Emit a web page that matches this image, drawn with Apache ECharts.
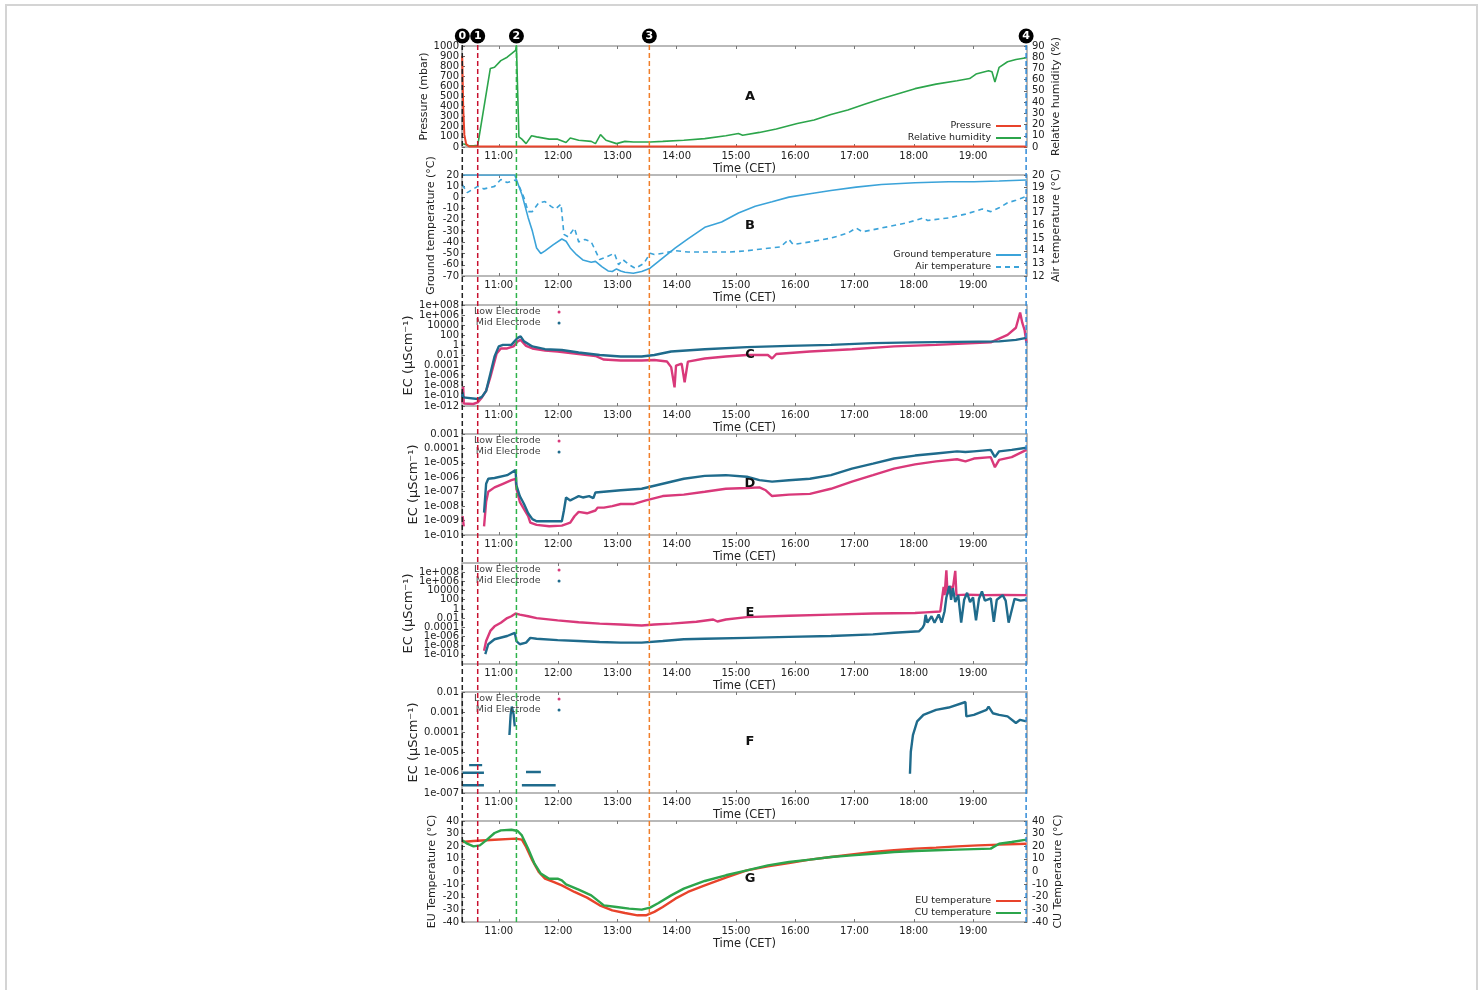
<!DOCTYPE html>
<html><head><meta charset="utf-8">
<script src="https://cdn.jsdelivr.net/npm/echarts@6/dist/echarts.min.js"></script>
<style>
html,body{margin:0;padding:0;background:#fff;width:1483px;height:990px;overflow:hidden}
#frame{position:absolute;left:5px;top:4px;width:1473px;height:1000px;border:2px solid #d4d4d4;box-sizing:border-box}
#chart{position:absolute;left:0;top:0;width:1483px;height:990px}
</style></head>
<body><div id="frame"></div><div id="chart"></div>
<script>
// ---------- tick labels / categories ----------
const HOUR_TICKS = [11, 12, 13, 14, 15, 16, 17, 18, 19];
const HOUR_LABELS = ['11:00','12:00','13:00','14:00','15:00','16:00','17:00','18:00','19:00'];
const TIME_MIN = 10.38, TIME_MAX = 19.91;           // decimal hours (CET)
const MARKER_TIMES = [10.385, 10.645, 11.298, 13.54, 19.895];
const MARKER_LABELS = ['0', '1', '2', '3', '4'];
const PANEL_LETTERS = ['A', 'B', 'C', 'D', 'E', 'F', 'G'];

// ---------- panel A ----------
const pressure = [[10.383,900],[10.40,400],[10.42,120],[10.45,30],[10.50,5],[19.90,5]];
const humidity = [[10.40,3],[10.433,2],[10.504,1],[10.574,1],[10.645,1.5],[10.858,70],[10.929,71],[11.035,77],[11.142,80],[11.284,86],[11.298,90],[11.34,9],[11.39,7],[11.461,3],[11.553,10],[11.638,9],[11.851,7],[11.993,7],[12.135,4],[12.206,8],[12.348,6],[12.56,5],[12.631,3],[12.716,11],[12.809,6],[12.986,3],[13.128,5],[13.27,4.5],[13.553,4.5],[13.766,5],[14.121,6],[14.475,7.5],[14.83,10],[15.043,12],[15.113,10.5],[15.397,13],[15.681,16],[16.035,21],[16.319,24],[16.603,29],[16.887,33],[17.17,38],[17.454,43],[17.738,47.5],[18.021,52],[18.376,56],[18.73,59],[18.943,61],[19.05,65],[19.262,68],[19.319,67],[19.369,58],[19.44,71],[19.582,76],[19.723,78],[19.901,79.6]];

// ---------- panel B ----------
const groundTemp = [[10.383,20],[11.27,20],[11.298,19],[11.39,2.7],[11.496,-18],[11.567,-30],[11.638,-45],[11.709,-50],[11.78,-47.6],[11.922,-42],[12.064,-37],[12.135,-39],[12.206,-45],[12.312,-51],[12.418,-55.7],[12.56,-57.7],[12.631,-57],[12.738,-61.6],[12.844,-65.5],[12.915,-66],[12.986,-63.7],[13.057,-65.5],[13.128,-66.7],[13.27,-67.6],[13.411,-66],[13.553,-63],[13.695,-57],[13.837,-51],[13.979,-45],[14.191,-37],[14.475,-26.6],[14.759,-21.9],[15.043,-13.8],[15.326,-7.8],[15.61,-3.9],[15.894,0.3],[16.248,3.3],[16.603,6.2],[17.028,9.2],[17.454,11.6],[18.021,13.1],[18.589,14],[19.014,14],[19.44,14.6],[19.901,15.5]];
const airTemp = [[10.383,19.25],[10.468,18.6],[10.574,18.9],[10.645,19.1],[10.752,18.9],[10.929,19.1],[11.035,19.65],[11.142,19.4],[11.284,19.6],[11.355,19.0],[11.426,18.2],[11.496,17.1],[11.567,17.1],[11.674,17.8],[11.78,17.9],[11.887,17.5],[11.957,17.3],[12.05,17.7],[12.099,15.3],[12.17,15.1],[12.277,15.8],[12.348,14.7],[12.454,14.9],[12.56,14.7],[12.702,13.3],[12.809,13.5],[12.95,13.8],[13.021,12.9],[13.092,13.3],[13.199,12.9],[13.305,12.6],[13.447,13.0],[13.553,13.8],[13.624,13.7],[13.766,13.8],[13.979,14.0],[14.191,13.9],[14.475,13.9],[14.901,13.9],[15.184,14.0],[15.539,14.2],[15.752,14.3],[15.894,14.9],[15.965,14.5],[16.248,14.7],[16.603,15.0],[16.887,15.4],[17.028,15.8],[17.135,15.5],[17.454,15.8],[17.879,16.2],[18.163,16.6],[18.234,16.4],[18.589,16.6],[18.872,16.9],[19.156,17.3],[19.298,17.1],[19.44,17.4],[19.582,17.8],[19.723,18.0],[19.901,18.3]];

// ---------- panel C (EC, µS/cm) ----------
const cLow = [[10.383,5e-12],[10.40,6.3e-9],[10.41,3.2e-12],[10.57,2.5e-12],[10.645,5e-12],[10.716,5e-11],[10.787,1e-9],[10.858,5e-7],[10.929,6.3e-4],[10.965,0.025],[11.035,0.25],[11.142,0.25],[11.248,0.63],[11.319,6.3],[11.369,12.6],[11.461,0.79],[11.567,0.25],[11.78,0.1],[11.993,0.063],[12.348,0.02],[12.631,0.0079],[12.773,0.0016],[13.057,0.001],[13.411,0.001],[13.624,0.00126],[13.837,6.3e-4],[13.908,5e-5],[13.965,5e-9],[13.99,1e-4],[14.085,2.5e-4],[14.135,5e-8],[14.19,6.3e-4],[14.475,0.0025],[14.83,0.0063],[15.184,0.0126],[15.539,0.0126],[15.61,0.0025],[15.681,0.02],[16.248,0.063],[16.957,0.178],[17.667,0.63],[18.376,1.26],[19.298,4],[19.582,126],[19.723,3160],[19.794,3.2e6],[19.83,3.2e4],[19.87,1000],[19.901,3.2]];
const cMid = [[10.383,5e-11],[10.39,5e-10],[10.40,5e-11],[10.645,2.5e-11],[10.716,6.3e-11],[10.787,1e-9],[10.858,2.5e-6],[10.929,0.0063],[11.0,0.63],[11.071,1.26],[11.213,1.26],[11.319,31.6],[11.369,63],[11.426,6.3],[11.567,0.63],[11.78,0.178],[12.064,0.126],[12.348,0.04],[12.702,0.0126],[13.057,0.0063],[13.411,0.0063],[13.624,0.0126],[13.908,0.063],[14.475,0.178],[15.184,0.45],[15.894,0.8],[16.603,1.26],[17.312,2.8],[18.021,4],[18.73,5],[19.44,6.3],[19.723,12.6],[19.901,31.6]];

// ---------- panel D ----------
const dLow = [[10.39,2e-9],[10.41,4e-10],[10.41,null],[10.752,4e-10],[10.787,2e-8],[10.823,1e-7],[10.929,2e-7],[11.071,3.55e-7],[11.213,6.3e-7],[11.284,7.9e-7],[11.298,1.6e-7],[11.355,2e-8],[11.426,6.3e-9],[11.496,2e-9],[11.532,7.1e-10],[11.638,5e-10],[11.851,4e-10],[12.064,4.5e-10],[12.206,7.1e-10],[12.277,2e-9],[12.348,4e-9],[12.489,3.2e-9],[12.631,5e-9],[12.667,7.9e-9],[12.773,7.9e-9],[12.915,1e-8],[13.057,1.4e-8],[13.27,1.4e-8],[13.482,2.5e-8],[13.766,5e-8],[14.121,6.3e-8],[14.475,1e-7],[14.83,1.6e-7],[15.184,1.8e-7],[15.397,2e-7],[15.504,1.26e-7],[15.61,5e-8],[15.894,6.3e-8],[16.248,7.1e-8],[16.603,1.6e-7],[16.957,5e-7],[17.312,1.4e-6],[17.667,4e-6],[18.021,7.9e-6],[18.376,1.26e-5],[18.73,1.78e-5],[18.872,1.26e-5],[19.014,2e-5],[19.298,2.5e-5],[19.369,5e-6],[19.44,1.6e-5],[19.652,2.5e-5],[19.901,7.9e-5]];
const dMid = [[10.752,3.55e-9],[10.787,3.55e-7],[10.823,7.9e-7],[10.929,8.9e-7],[11.142,1.4e-6],[11.284,3.2e-6],[11.298,2.8e-7],[11.355,5e-8],[11.426,1.4e-8],[11.496,3.2e-9],[11.567,1.26e-9],[11.638,8.9e-10],[12.064,8.9e-10],[12.099,5e-9],[12.135,4e-8],[12.206,2.5e-8],[12.277,3.55e-8],[12.348,5e-8],[12.418,4e-8],[12.525,5e-8],[12.596,3.55e-8],[12.631,8.9e-8],[12.773,1e-7],[13.057,1.26e-7],[13.411,1.6e-7],[13.766,3.55e-7],[14.121,7.9e-7],[14.475,1.26e-6],[14.83,1.4e-6],[15.184,1.1e-6],[15.397,6.3e-7],[15.61,5e-7],[15.894,6.3e-7],[16.248,7.9e-7],[16.603,1.4e-6],[16.957,4e-6],[17.312,8.9e-6],[17.667,2e-5],[18.021,3.2e-5],[18.376,4.5e-5],[18.73,6.3e-5],[18.872,5.6e-5],[19.014,6.3e-5],[19.298,7.9e-5],[19.369,2.5e-5],[19.44,6.3e-5],[19.652,7.9e-5],[19.901,1.12e-4]];

// ---------- panel E ----------
const eLow = [[10.752,7.9e-10],[10.787,1e-7],[10.858,1.6e-5],[10.929,1.6e-4],[11.035,1e-3],[11.142,0.01],[11.213,0.025],[11.284,0.1],[11.355,0.056],[11.496,0.025],[11.638,0.01],[11.993,0.0032],[12.348,0.00126],[12.702,6.3e-4],[13.057,4e-4],[13.411,2.5e-4],[13.624,4e-4],[13.908,6.3e-4],[14.333,0.0016],[14.617,0.005],[14.688,0.0018],[14.83,0.005],[15.184,0.016],[15.894,0.032],[16.603,0.056],[17.312,0.1],[18.021,0.126],[18.199,0.178],[18.447,0.28],[18.504,6.3e4],[18.52,1000],[18.55,2.5e8],[18.57,1600],[18.62,1e5],[18.65,4000],[18.70,2e8],[18.72,1000],[18.9,1260],[19.2,1000],[19.5,1100],[19.901,1000]];
const eMid = [[10.773,1.4e-10],[10.823,2e-8],[10.929,2.5e-7],[11.142,1.26e-6],[11.27,6.3e-6],[11.298,1e-7],[11.355,2e-8],[11.461,4.5e-8],[11.532,5e-7],[11.638,3.2e-7],[11.993,1.6e-7],[12.348,1e-7],[12.702,6.3e-8],[13.057,4.5e-8],[13.411,4.5e-8],[13.766,1e-7],[14.121,2.5e-7],[14.475,3.2e-7],[15.184,5e-7],[15.894,7.9e-7],[16.603,1.26e-6],[17.312,2.8e-6],[17.667,6.3e-6],[18.092,1.4e-5],[18.149,7.9e-5],[18.177,4e-4],[18.2,0.05],[18.23,0.001],[18.3,0.025],[18.35,0.001],[18.42,0.063],[18.47,0.001],[18.52,0.32],[18.55,316],[18.6,1e5],[18.63,100],[18.66,3.2e4],[18.7,31.6],[18.75,1000],[18.8,0.001],[18.85,100],[18.9,3160],[18.95,31.6],[19.0,316],[19.05,0.0032],[19.1,158],[19.15,6300],[19.2,63],[19.3,200],[19.35,0.0016],[19.4,100],[19.5,1000],[19.55,63],[19.6,0.001],[19.7,158],[19.8,63],[19.901,100]];

// ---------- panel F ----------
const fLow = [];
const fMid = [[10.39,1e-6],[10.75,1e-6],[10.75,null],[10.39,2.4e-7],[10.75,2.4e-7],[10.75,null],[10.50,2.4e-6],[10.72,2.4e-6],[10.72,null],[11.18,7.4e-5],[11.20,7.4e-4],[11.22,1.9e-3],[11.25,8e-4],[11.27,2e-4],[11.27,null],[11.39,2.4e-7],[11.96,2.4e-7],[11.96,null],[11.46,1.1e-6],[11.71,1.1e-6],[11.71,null],[17.936,9e-7],[17.95,1.1e-5],[17.986,7.4e-5],[18.057,3.5e-4],[18.163,7.4e-4],[18.376,1.3e-3],[18.589,1.7e-3],[18.872,3.2e-3],[18.887,6.2e-4],[19.014,7.4e-4],[19.227,1.3e-3],[19.262,1.9e-3],[19.333,8.9e-4],[19.44,7.4e-4],[19.582,6.2e-4],[19.723,2.9e-4],[19.794,4.2e-4],[19.901,3.5e-4]];

// ---------- panel G ----------
const euTemp = [[10.383,23.4],[10.574,24.2],[10.929,25.2],[11.284,26],[11.39,25.2],[11.461,19.4],[11.567,8.8],[11.674,-0.4],[11.78,-5.7],[11.922,-8.3],[12.064,-11],[12.277,-16.2],[12.489,-20.7],[12.702,-26.8],[12.915,-30.8],[13.128,-32.9],[13.34,-34.7],[13.482,-34.7],[13.624,-32],[13.766,-28.1],[13.979,-21.5],[14.191,-16.2],[14.475,-11],[14.83,-4.9],[15.184,0.9],[15.539,4.1],[15.894,6.7],[16.248,9.4],[16.603,11.5],[16.957,13.6],[17.312,15.4],[17.667,16.8],[18.021,18.1],[18.376,18.9],[18.73,19.9],[19.085,20.7],[19.44,21.3],[19.901,22]];
const cuTemp = [[10.383,24.7],[10.468,22],[10.574,19.9],[10.681,20.7],[10.787,24.7],[10.929,30.5],[11.035,32.6],[11.213,33.1],[11.319,32.1],[11.39,28.6],[11.496,18.1],[11.603,6.2],[11.709,-1.7],[11.851,-5.7],[11.993,-5.7],[12.064,-7],[12.135,-10.2],[12.348,-14.4],[12.56,-18.9],[12.773,-26.8],[12.986,-28.1],[13.199,-29.4],[13.411,-30.2],[13.553,-28.6],[13.695,-25],[13.908,-18.9],[14.121,-13.6],[14.475,-7.5],[14.83,-3],[15.184,0.9],[15.539,4.9],[15.894,7.5],[16.248,9.4],[16.603,11.5],[16.957,12.8],[17.312,14.1],[17.667,15.4],[18.021,16.2],[18.376,16.8],[18.73,17.3],[19.298,18.1],[19.44,22],[19.652,23.4],[19.901,25.2]];

// ---------- styling / layout ----------
const FONT = "'DejaVu Sans', Verdana, sans-serif";
const TXT = '#222';
const C = {red:'#e8432b', green:'#2ca54b', blue:'#3ba3d9', pink:'#d9397a', teal:'#1f6b8c'};
const MARKER_COLORS = ['#222222', '#c8102e', '#2db34a', '#f07f2a', '#2f8ad8'];
const GRID_LEFT = 462, GRID_RIGHT = 456, PANEL_H = 101;
const PANEL_TOP = [46, 175, 305, 434, 563, 692, 821];
const LETTER_Y = [97, 226, 355, 484, 613, 742, 879];

function toLog(arr) { return arr.map(p => [p[0], p[1] == null ? '-' : Math.log10(p[1])]); }
function fmtG(e) {
  const k = Math.round(e);
  if (k < -4 || k >= 6) return '1e' + (k < 0 ? '-' : '+') + String(Math.abs(k)).padStart(3, '0');
  if (k >= 0) return String(Math.pow(10, k));
  return '0.' + '0'.repeat(-k - 1) + '1';
}
const plain = v => String(Math.round(v * 1000) / 1000);

const option = {animation:false, grid:[], xAxis:[], yAxis:[], series:[], legend:[], graphic:[]};

PANEL_TOP.forEach((top, i) => {
  option.grid.push({left:GRID_LEFT, right:GRID_RIGHT, top:top, height:PANEL_H, show:true,
    borderColor:'#a3a3a3', borderWidth:1.5, backgroundColor:'rgba(0,0,0,0)'});
  option.xAxis.push({gridIndex:i, type:'value', min:TIME_MIN, max:TIME_MAX, position:'bottom',
    name:'Time (CET)', nameLocation:'middle', nameGap:16,
    nameTextStyle:{fontFamily:FONT, fontSize:11.5, color:TXT},
    axisLine:{show:false, onZero:false}, splitLine:{show:false},
    axisTick:{inside:true, length:3, customValues:HOUR_TICKS, lineStyle:{color:'#777'}},
    axisLabel:{customValues:HOUR_TICKS, formatter:v => HOUR_LABELS[HOUR_TICKS.indexOf(Math.round(v))] || '',
      fontFamily:FONT, fontSize:10, color:TXT, margin:4}});
  option.xAxis.push({gridIndex:i, type:'value', min:TIME_MIN, max:TIME_MAX, position:'top',
    axisLine:{show:false, onZero:false}, splitLine:{show:false}, axisLabel:{show:false},
    axisTick:{inside:true, length:3, customValues:HOUR_TICKS, lineStyle:{color:'#777'}}});
  option.graphic.push({type:'text', x:750, y:LETTER_Y[i], z:20,
    style:{text:PANEL_LETTERS[i], font:'bold 13px ' + FONT, fill:'#111', align:'center', verticalAlign:'middle'}});
});

function yAxis(gridIndex, pos, min, max, interval, name, nameGap, extra) {
  const ax = {gridIndex, type:'value', position:pos, min, max, interval, name, nameGap,
    nameLocation:'middle', nameRotate:90,
    nameTextStyle:{fontFamily:FONT, fontSize:11, color:TXT},
    axisLine:{show:false, onZero:false}, splitLine:{show:false},
    axisTick:{show:true, inside:true, length:3, lineStyle:{color:'#666'}},
    axisLabel:{fontFamily:FONT, fontSize:10, color:TXT, margin:pos === 'left' ? 3 : 5, formatter:plain}};
  if (extra && extra.formatter) ax.axisLabel.formatter = extra.formatter;
  if (extra && extra.nameSize) ax.nameTextStyle.fontSize = extra.nameSize;
  option.yAxis.push(ax);
  return option.yAxis.length - 1;
}
const EC_NAME = 'EC (µScm⁻¹)';
const ecExtra = {formatter:fmtG, nameSize:13};
const yA1 = yAxis(0, 'left', 0, 1000, 100, 'Pressure (mbar)', 24);
const yA2 = yAxis(0, 'right', 0, 90, 10, 'Relative humidity (%)', 24);
const yB1 = yAxis(1, 'left', -70, 20, 10, 'Ground temperature (°C)', 25);
const yB2 = yAxis(1, 'right', 12, 20, 1, 'Air temperature (°C)', 24);
const yC = yAxis(2, 'left', -12, 8, 2, EC_NAME, 30, ecExtra);
const yD = yAxis(3, 'left', -10, -3, 1, EC_NAME, 30, ecExtra);
const yE = yAxis(4, 'left', -12, 10, 2, EC_NAME, 30, ecExtra);
const yF = yAxis(5, 'left', -7, -2, 1, EC_NAME, 30, ecExtra);
const yG1 = yAxis(6, 'left', -40, 40, 10, 'EU Temperature (°C)', 24);
const yG2 = yAxis(6, 'right', -40, 40, 10, 'CU Temperature (°C)', 24);

function addLine(name, panel, yIdx, data, color, width, type) {
  option.series.push({type:'line', name, xAxisIndex:panel * 2, yAxisIndex:yIdx, data,
    symbol:'none', showSymbol:false, connectNulls:false, silent:true,
    lineStyle:{color, width, type:type || 'solid'}, itemStyle:{color}});
}
addLine('Relative humidity', 0, yA2, humidity, C.green, 1.6);
addLine('Pressure', 0, yA1, pressure, C.red, 2);
addLine('Ground temperature', 1, yB1, groundTemp, C.blue, 1.6);
addLine('Air temperature', 1, yB2, airTemp, C.blue, 1.6, [5, 4]);
addLine('Low Electrode', 2, yC, toLog(cLow), C.pink, 2.4);
addLine('Mid Electrode', 2, yC, toLog(cMid), C.teal, 2.4);
addLine('Low Electrode', 3, yD, toLog(dLow), C.pink, 2.4);
addLine('Mid Electrode', 3, yD, toLog(dMid), C.teal, 2.4);
addLine('Low Electrode', 4, yE, toLog(eLow), C.pink, 2.4);
addLine('Mid Electrode', 4, yE, toLog(eMid), C.teal, 2.4);
addLine('Low Electrode', 5, yF, toLog(fLow), C.pink, 2.4);
addLine('Mid Electrode', 5, yF, toLog(fMid), C.teal, 2.4);
addLine('EU temperature', 6, yG1, euTemp, C.red, 2.4);
addLine('CU temperature', 6, yG2, cuTemp, C.green, 2.4);

// ---------- legends ----------
function lineLegend(top, names) {
  option.legend.push({data:names, right:461, top, orient:'vertical', align:'right',
    itemWidth:25, itemHeight:8, itemGap:2, padding:0, selectedMode:false,
    itemStyle:{opacity:0}, lineStyle:{width:2},
    textStyle:{fontFamily:FONT, fontSize:9.5, color:TXT}});
}
lineLegend(121, ['Pressure', 'Relative humidity']);
lineLegend(250, ['Ground temperature', 'Air temperature']);
lineLegend(896, ['EU temperature', 'CU temperature']);
[2, 3, 4, 5].forEach(p => {
  option.legend.push({data:[{name:'Low Electrode', icon:'circle'}, {name:'Mid Electrode', icon:'circle'}],
    left:474, top:PANEL_TOP[p] + 2, orient:'vertical', align:'right',
    itemWidth:3, itemHeight:3, itemGap:1, padding:0, selectedMode:false,
    textStyle:{fontFamily:FONT, fontSize:9.5, color:'#444', padding:[0, 12, 0, 0]}});
});

// ---------- event markers (overlay) ----------
const OV = PANEL_TOP.length;
option.grid.push({left:GRID_LEFT, right:GRID_RIGHT, top:36, height:922 - 36, show:false});
option.xAxis.push({gridIndex:OV, type:'value', min:TIME_MIN, max:TIME_MAX, show:false});
option.yAxis.push({gridIndex:OV, type:'value', min:0, max:1, show:false});
const ovX = option.xAxis.length - 1, ovY = option.yAxis.length - 1;
MARKER_TIMES.forEach((t, i) => {
  option.series.push({type:'line', xAxisIndex:ovX, yAxisIndex:ovY, data:[[t, 0], [t, 1]],
    symbol:'none', silent:true, z:8, lineStyle:{color:MARKER_COLORS[i], width:1.5, type:[5, 3]}});
});
option.series.push({type:'scatter', xAxisIndex:ovX, yAxisIndex:ovY, z:12, silent:true,
  data:MARKER_TIMES.map(t => [t, 1]), symbol:'circle', symbolSize:15,
  itemStyle:{color:'#000', opacity:1},
  label:{show:true, position:'inside', formatter:p => MARKER_LABELS[p.dataIndex],
    color:'#fff', fontWeight:'bold', fontSize:11, fontFamily:FONT}});

const chart = echarts.init(document.getElementById('chart'), null, {renderer:'canvas'});
chart.setOption(option);
</script>
</body></html>
